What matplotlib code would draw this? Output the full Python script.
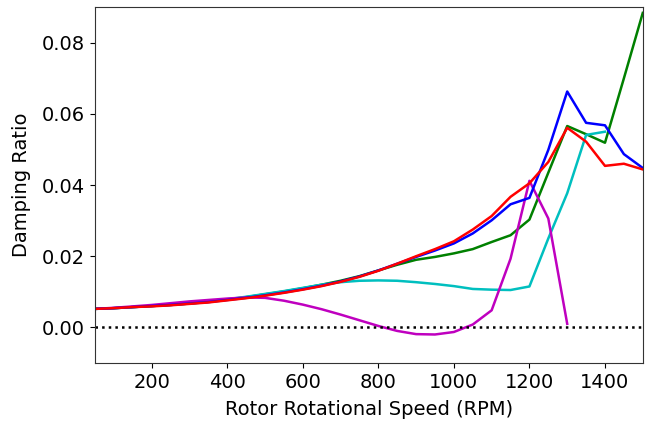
import matplotlib.pyplot as plt

rpm = [50, 100, 150, 200, 250, 300, 350, 400, 450, 500, 550, 600, 650, 700,
       750, 800, 850, 900, 950, 1000, 1050, 1100, 1150, 1200, 1250, 1300,
       1350, 1400, 1450, 1500]

blue = [0.0052, 0.0054, 0.0057, 0.0060, 0.0063, 0.0067, 0.0071, 0.0077, 0.0083,
        0.0090, 0.0098, 0.0107, 0.0117, 0.0129, 0.0143, 0.0160, 0.0179, 0.0198,
        0.0216, 0.0236, 0.0264, 0.0301, 0.0346, 0.0364, 0.0499, 0.0663,
        0.0575, 0.0568, 0.0487, 0.0448]
red = [0.0052, 0.0054, 0.0057, 0.0059, 0.0062, 0.0066, 0.0070, 0.0076, 0.0082,
       0.0089, 0.0097, 0.0106, 0.0116, 0.0128, 0.0142, 0.0159, 0.0179, 0.0200,
       0.0220, 0.0242, 0.0275, 0.0313, 0.0367, 0.0405, 0.0465, 0.0561,
       0.0522, 0.0454, 0.0460, 0.0444]
green = [0.0052, 0.0054, 0.0057, 0.0060, 0.0063, 0.0067, 0.0072, 0.0078, 0.0085,
         0.0093, 0.0101, 0.0110, 0.0120, 0.0131, 0.0144, 0.0160, 0.0176, 0.0190,
         0.0198, 0.0208, 0.0220, 0.0240, 0.0259, 0.0303, 0.0435, 0.0566,
         0.0543, 0.0519, 0.0700, 0.0884]
# cyan stops at 1400 RPM
cyan = [0.0052, 0.0054, 0.0057, 0.0060, 0.0064, 0.0068, 0.0073, 0.0079, 0.0086,
        0.0094, 0.0102, 0.0111, 0.0120, 0.0127, 0.0131, 0.0132, 0.0131, 0.0127,
        0.0122, 0.0116, 0.0108, 0.0106, 0.0105, 0.0115, 0.0250, 0.0377,
        0.0541, 0.0550]
# magenta stops at 1300 RPM
magenta = [0.0052, 0.0055, 0.0059, 0.0063, 0.0068, 0.0073, 0.0077, 0.0081, 0.0084,
           0.0083, 0.0075, 0.0064, 0.0051, 0.0036, 0.0020, 0.0004, -0.0010, -0.0019,
           -0.0020, -0.0013, 0.0008, 0.0048, 0.0193, 0.0412, 0.0306, 0.0010]

fig = plt.figure(figsize=(6.46, 4.24), dpi=100)
ax = fig.add_axes([0.147, 0.144, 0.848, 0.839])

lw = 1.8
ax.plot(rpm, green, 'g', linewidth=lw)
ax.plot(rpm[:len(cyan)], cyan, 'c', linewidth=lw)
ax.plot(rpm[:len(magenta)], magenta, 'm', linewidth=lw)
ax.plot(rpm, blue, 'b', linewidth=lw)
ax.plot(rpm, red, 'r', linewidth=lw)
ax.axhline(0, color='k', linestyle=':', linewidth=1.8)

ax.set_xlim(50, 1500)
ax.set_ylim(-0.01, 0.09)
ax.set_xticks([200, 400, 600, 800, 1000, 1200, 1400])
ax.set_yticks([0.0, 0.02, 0.04, 0.06, 0.08])
ax.tick_params(labelsize=14)
ax.set_xlabel("Rotor Rotational Speed (RPM)", fontsize=14, labelpad=6)
ax.set_ylabel("Damping Ratio", fontsize=14, labelpad=8)
for s in ax.spines.values():
    s.set_color('#333333')

fig.savefig("out.png", dpi=100)
